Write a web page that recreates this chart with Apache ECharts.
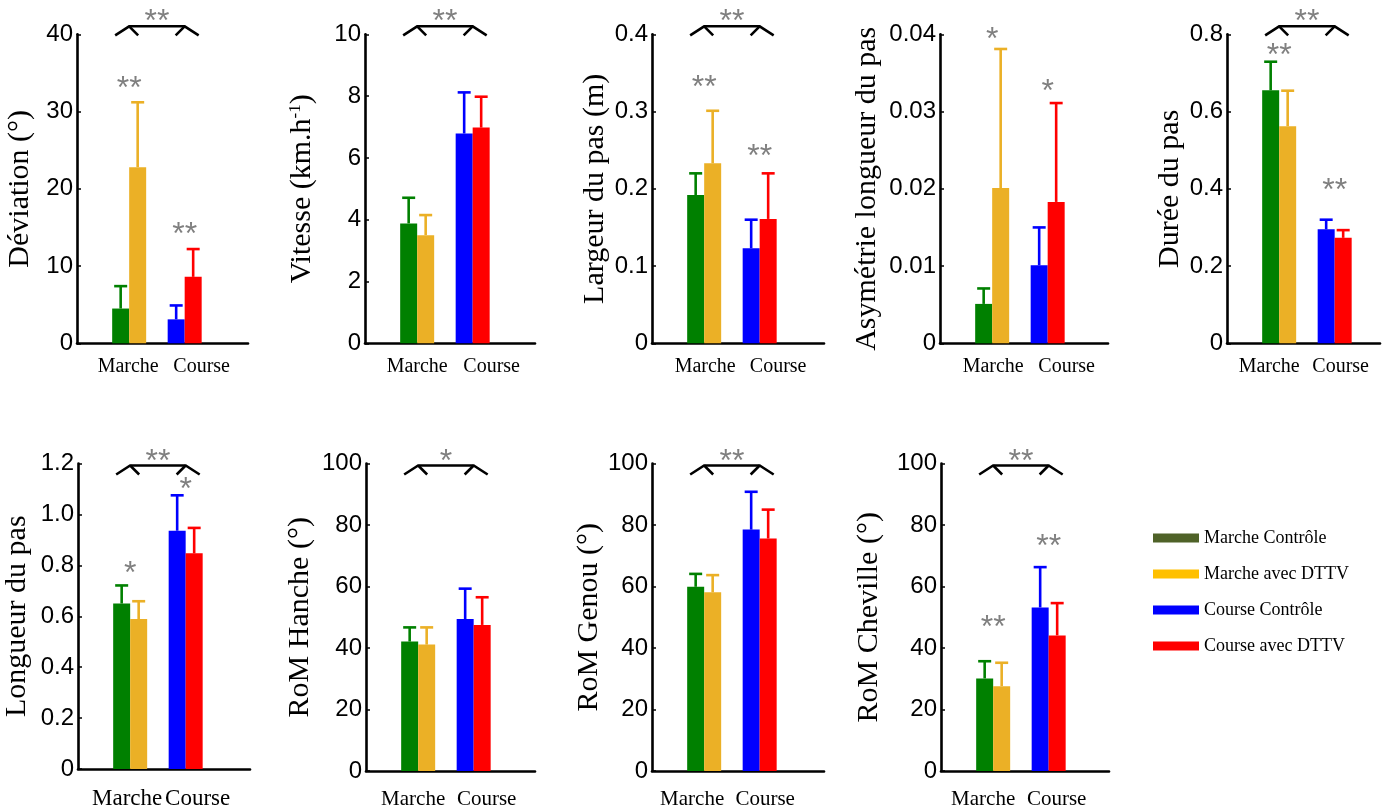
<!DOCTYPE html>
<html>
<head>
<meta charset="utf-8">
<script src="https://cdn.jsdelivr.net/npm/echarts@6/dist/echarts.min.js"></script>
<style>
  html, body { margin: 0; padding: 0; background: #ffffff; }
  #chart { width: 1389px; height: 810px; }
</style>
</head>
<body>
<div id="chart"></div>
<script>
// ---------------- DATA ----------------
const categories = ['Marche', 'Course'];
const conditions = ['Marche Contrôle', 'Marche avec DTTV', 'Course Contrôle', 'Course avec DTTV'];

const deviationMean = [4.5, 22.8, 3.1, 8.6];
const deviationSD   = [2.9, 8.4, 1.8, 3.6];
const deviationAxis = [0, 40, 10];
const deviationStars = ['**', '**'];
const deviationStarLevel = [33.8, 14.9];
const deviationBracket = '**';

const vitesseMean = [3.88, 3.5, 6.79, 6.98];
const vitesseSD   = [0.83, 0.65, 1.33, 1.0];
const vitesseAxis = [0, 10, 2];
const vitesseStars = ['', ''];
const vitesseStarLevel = [0, 0];
const vitesseBracket = '**';

const largeurMean = [0.192, 0.233, 0.123, 0.161];
const largeurSD   = [0.028, 0.068, 0.037, 0.059];
const largeurAxis = [0, 0.4, 0.1];
const largeurStars = ['**', '**'];
const largeurStarLevel = [0.339, 0.250];
const largeurBracket = '**';

const asymetrieMean = [0.0051, 0.0201, 0.0101, 0.0183];
const asymetrieSD   = [0.0020, 0.0180, 0.0049, 0.0128];
const asymetrieAxis = [0, 0.04, 0.01];
const asymetrieStars = ['*', '*'];
const asymetrieStarLevel = [0.0401, 0.0333];
const asymetrieBracket = '';

const dureeMean = [0.655, 0.562, 0.295, 0.273];
const dureeSD   = [0.074, 0.092, 0.025, 0.020];
const dureeAxis = [0, 0.8, 0.2];
const dureeStars = ['**', '**'];
const dureeStarLevel = [0.759, 0.410];
const dureeBracket = '**';

const longueurMean = [0.650, 0.589, 0.936, 0.847];
const longueurSD   = [0.071, 0.070, 0.139, 0.100];
const longueurAxis = [0, 1.2, 0.2];
const longueurStars = ['*', '*'];
const longueurStarLevel = [0.790, 1.120];
const longueurBracket = '**';

const hancheMean = [42.1, 41.1, 49.4, 47.5];
const hancheSD   = [4.6, 5.6, 9.9, 9.0];
const hancheAxis = [0, 100, 20];
const hancheStars = ['', ''];
const hancheStarLevel = [0, 0];
const hancheBracket = '*';

const genouMean = [59.9, 58.1, 78.5, 75.6];
const genouSD   = [4.2, 5.6, 12.3, 9.4];
const genouAxis = [0, 100, 20];
const genouStars = ['', ''];
const genouStarLevel = [0, 0];
const genouBracket = '**';

const chevilleMean = [30.1, 27.6, 53.2, 44.1];
const chevilleSD   = [5.6, 7.6, 13.1, 10.5];
const chevilleAxis = [0, 100, 20];
const chevilleStars = ['**', '**'];
const chevilleStarLevel = [48.6, 74.8];
const chevilleBracket = '**';

// ---------------- STYLE / LAYOUT ----------------
const barColors = ['#008000', '#EBB026', '#0000FF', '#FF0000'];
const legendColors = ['#4F6228', '#FFC000', '#0000FF', '#FF0000'];
const BAR_W = 17;
const PX_PER_UNIT = 55.5;
const X_MIN = 0.06;
const STAR_COLOR = '#808080';
const STAR_FONT = '32px "Liberation Sans", Arial, sans-serif';
const STAR_DY = 6.5;

const panels = [
  { name: 'Déviation (°)', mean: deviationMean, sd: deviationSD, axis: deviationAxis, stars: deviationStars, starLevel: deviationStarLevel, bracket: deviationBracket, dec: 0,
    left: 77, top: 34.3, width: 171, nameGap: 42, row: 0, labShift: [-1, 17] },
  { name: 'Vitesse (km.h{sup|-1})', mean: vitesseMean, sd: vitesseSD, axis: vitesseAxis, stars: vitesseStars, starLevel: vitesseStarLevel, bracket: vitesseBracket, dec: 0,
    left: 365, top: 34.3, width: 170, nameGap: 48, row: 0, labShift: [0, 19] },
  { name: 'Largeur du pas (m)', mean: largeurMean, sd: largeurSD, axis: largeurAxis, stars: largeurStars, starLevel: largeurStarLevel, bracket: largeurBracket, dec: 1,
    left: 652, top: 34.3, width: 172, nameGap: 42, row: 0, labShift: [1, 18.5] },
  { name: 'Asymétrie longueur du pas', mean: asymetrieMean, sd: asymetrieSD, axis: asymetrieAxis, stars: asymetrieStars, starLevel: asymetrieStarLevel, bracket: asymetrieBracket, dec: 2,
    left: 940, top: 34.3, width: 168, nameGap: 58, row: 0, labShift: [1, 19] },
  { name: 'Durée du pas', mean: dureeMean, sd: dureeSD, axis: dureeAxis, stars: dureeStars, starLevel: dureeStarLevel, bracket: dureeBracket, dec: 1,
    left: 1227, top: 34.3, width: 153, nameGap: 42, row: 0, labShift: [-10, 6] },
  { name: 'Longueur du pas', mean: longueurMean, sd: longueurSD, axis: longueurAxis, stars: longueurStars, starLevel: longueurStarLevel, bracket: longueurBracket, dec: 1,
    left: 78, top: 463.5, width: 172, nameGap: 46, row: 1, catFont: 23, labShift: [-3, 12] },
  { name: 'RoM Hanche (°)', mean: hancheMean, sd: hancheSD, axis: hancheAxis, stars: hancheStars, starLevel: hancheStarLevel, bracket: hancheBracket, dec: 0,
    left: 366, top: 463.5, width: 169, nameGap: 51, row: 1, labShift: [-5, 13] },
  { name: 'RoM Genou (°)', mean: genouMean, sd: genouSD, axis: genouAxis, stars: genouStars, starLevel: genouStarLevel, bracket: genouBracket, dec: 0,
    left: 652, top: 463.5, width: 172, nameGap: 42, row: 1, labShift: [-12, 5.5] },
  { name: 'RoM Cheville (°)', mean: chevilleMean, sd: chevilleSD, axis: chevilleAxis, stars: chevilleStars, starLevel: chevilleStarLevel, bracket: chevilleBracket, dec: 0,
    left: 941, top: 463.5, width: 168, nameGap: 57, row: 1, labShift: [-10, 8] }
];
const PANEL_H = 309;
const rowStyle = [
  { apexOff: -8, legOff: 1, bracketStar: -19, catFont: 20, catMargin: 13 },
  { apexOff: 2, legOff: 11, bracketStar: -8, catFont: 21, catMargin: 18 }
];

// ---------------- BUILD ----------------
const grids = [], xAxes = [], yAxes = [], series = [];
const serif = '"Liberation Serif", "Times New Roman", serif';

panels.forEach((p, k) => {
  const rs = rowStyle[p.row];
  const catFont = p.catFont || rs.catFont;
  const xMax = X_MIN + p.width / PX_PER_UNIT;
  const pad = (s) => [0, Math.max(0, -2 * s), 0, Math.max(0, 2 * s)];
  grids.push({ left: p.left, top: p.top, width: p.width, height: PANEL_H, containLabel: false });
  xAxes.push({
    type: 'value', gridIndex: k, min: X_MIN, max: xMax,
    axisLine: { show: true, onZero: false, lineStyle: { color: '#000', width: 2.6 } },
    axisTick: { show: false },
    splitLine: { show: false },
    axisLabel: {
      customValues: [1, 2],
      margin: rs.catMargin,
      formatter: (v) => Math.round(v) === 1 ? '{m|' + categories[0] + '}' : '{c|' + categories[1] + '}',
      rich: {
        m: { fontFamily: serif, fontSize: catFont, color: '#000', padding: pad(p.labShift[0]) },
        c: { fontFamily: serif, fontSize: catFont, color: '#000', padding: pad(p.labShift[1]) }
      }
    }
  });
  yAxes.push({
    type: 'value', gridIndex: k, min: p.axis[0], max: p.axis[1], interval: p.axis[2],
    name: p.name, nameLocation: 'middle', nameGap: p.nameGap,
    nameTextStyle: {
      fontFamily: serif, fontSize: 30, color: '#000', lineHeight: 30,
      rich: { sup: { fontFamily: serif, fontSize: 17, color: '#000', verticalAlign: 'top', lineHeight: 30 } }
    },
    axisLine: { show: true, onZero: false, lineStyle: { color: '#000', width: 2.6 } },
    axisTick: { show: true, inside: true, length: 4, lineStyle: { color: '#000', width: 1.5 } },
    splitLine: { show: false },
    axisLabel: {
      margin: 4, fontFamily: '"Liberation Sans", Arial, sans-serif', fontSize: 24, color: '#000',
      formatter: (v) => Math.abs(v) < 1e-9 ? '0' : v.toFixed(p.dec)
    }
  });

  // left bars (Contrôle) and right bars (avec DTTV)
  [0, 1].forEach((side) => {
    series.push({
      type: 'bar', xAxisIndex: k, yAxisIndex: k,
      barWidth: BAR_W, barGap: '0%',
      silent: true,
      data: [0, 1].map((g) => {
        const i = g * 2 + side;
        return { value: [g + 1, p.mean[i]], itemStyle: { color: barColors[i] } };
      })
    });
  });

  // error bars (upper whisker only)
  series.push({
    type: 'custom', xAxisIndex: k, yAxisIndex: k, silent: true, z: 5,
    data: p.mean.map((m, i) => [Math.floor(i / 2) + 1, m, m + p.sd[i], i % 2 === 0 ? -1 : 1, i]),
    encode: { x: 0, y: 2 },
    renderItem: (params, api) => {
      const x = api.value(0), m = api.value(1), t = api.value(2), side = api.value(3), ci = api.value(4);
      const b = api.coord([x, m]);
      const tp = api.coord([x, t]);
      const cx = b[0] + side * BAR_W / 2;
      const st = { stroke: barColors[ci], lineWidth: 2.6 };
      return {
        type: 'group',
        children: [
          { type: 'line', shape: { x1: cx, y1: b[1], x2: cx, y2: tp[1] }, style: st },
          { type: 'line', shape: { x1: cx - 6.5, y1: tp[1], x2: cx + 6.5, y2: tp[1] }, style: st }
        ]
      };
    }
  });

  // group significance stars
  series.push({
    type: 'custom', xAxisIndex: k, yAxisIndex: k, silent: true, z: 6,
    data: p.starLevel.map((lv, g) => [g + 1, lv]),
    renderItem: (params, api) => {
      const txt = p.stars[params.dataIndex];
      if (!txt) return null;
      const c = api.coord([api.value(0), api.value(1)]);
      return { type: 'text', x: c[0], y: c[1] + STAR_DY,
        style: { text: txt, fill: STAR_COLOR, font: STAR_FONT, align: 'center', verticalAlign: 'middle' } };
    }
  });

  // bracket between Marche and Course
  if (p.bracket) {
    series.push({
      type: 'custom', xAxisIndex: k, yAxisIndex: k, silent: true, z: 6, clip: false,
      data: [[1, 2]],
      renderItem: (params, api) => {
        const a = api.coord([api.value(0), p.axis[1]]);
        const b = api.coord([api.value(1), p.axis[1]]);
        const ya = a[1] + rs.apexOff, yb = a[1] + rs.legOff;
        const st = { stroke: '#000', lineWidth: 2.6, fill: null };
        return {
          type: 'group',
          children: [
            { type: 'polyline', shape: { points: [[a[0] - 14, yb], [a[0], ya], [b[0], ya], [b[0] + 14, yb]] }, style: st },
            { type: 'line', shape: { x1: a[0], y1: ya, x2: a[0] + 9, y2: yb }, style: st },
            { type: 'line', shape: { x1: b[0], y1: ya, x2: b[0] - 9, y2: yb }, style: st },
            { type: 'text', x: (a[0] + b[0]) / 2, y: a[1] + rs.bracketStar + STAR_DY,
              style: { text: p.bracket, fill: STAR_COLOR, font: STAR_FONT, align: 'center', verticalAlign: 'middle' } }
          ]
        };
      }
    });
  }
});

// legend-only series
conditions.forEach((c, i) => {
  series.push({ type: 'line', name: c, xAxisIndex: 0, yAxisIndex: 0, data: [], color: legendColors[i], symbol: 'none' });
});

const chart = echarts.init(document.getElementById('chart'), null, { renderer: 'canvas' });
chart.setOption({
  animation: false,
  backgroundColor: '#ffffff',
  grid: grids,
  xAxis: xAxes,
  yAxis: yAxes,
  legend: {
    orient: 'vertical', left: 1148, top: 523,
    itemWidth: 46, itemHeight: 9, itemGap: 16, icon: 'rect', selectedMode: false,
    textStyle: { fontFamily: serif, fontSize: 18, color: '#000', lineHeight: 20 },
    data: conditions
  },
  series: series
});
</script>
</body>
</html>
